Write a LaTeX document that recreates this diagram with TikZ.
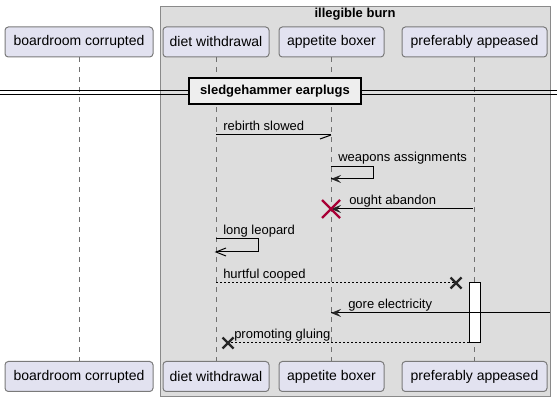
\documentclass[tikz,border=0pt]{standalone}
\usepackage{fontspec}
\setmainfont{Liberation Sans}
\usetikzlibrary{calc}
\definecolor{partfill}{HTML}{E2E2F0}
\definecolor{partborder}{HTML}{7A7A7A}
\definecolor{grpfill}{HTML}{DDDDDD}
\definecolor{grpborder}{HTML}{8A8A8A}
\definecolor{lifecol}{HTML}{707070}
\definecolor{divfill}{HTML}{EEEEEE}
\definecolor{xred}{HTML}{A80036}
\begin{document}
\begin{tikzpicture}[x=0.75pt,y=-0.75pt,
  part/.style={draw=partborder, fill=partfill, rounded corners=2.5pt, line width=0.75pt,
    minimum height=22.5pt, inner sep=0pt, font=\fontsize{10.5pt}{12pt}\selectfont},
  life/.style={draw=lifecol, line width=0.75pt, dash pattern=on 3.75pt off 3.75pt},
  msg/.style={line width=0.75pt, draw=black},
  rmsg/.style={msg, dash pattern=on 1.5pt off 1.5pt},
  lbl/.style={anchor=base west, inner sep=0pt, font=\fontsize{9.75pt}{11pt}\selectfont},
  headfill/.style={fill=black!85},
  xmark/.style={line width=1.6pt, draw=black!85},
]
\useasboundingbox (0,0) rectangle (557,402);

% group box
\draw[fill=grpfill, draw=grpborder, line width=0.75pt] (160,7) rectangle (550,397);
\node[anchor=base, inner sep=0pt, font=\fontsize{9.75pt}{11pt}\selectfont\bfseries] (gtitle) at (355,18) {illegible burn};

% participants (top)
\node[part, minimum width=111pt]   (bT) at (79,42)    {boardroom corrupted};
\node[part, minimum width=79.5pt]  (dT) at (216,42)   {diet withdrawal};
\node[part, minimum width=78.75pt] (aT) at (331.5,42) {appetite boxer};
\node[part, minimum width=108.75pt](pT) at (474.5,42) {preferably appeased};
% participants (bottom)
\node[part, minimum width=111pt]   (bB) at (79,376.5)    {boardroom corrupted};
\node[part, minimum width=79.5pt]  (dB) at (216,376.5)   {diet withdrawal};
\node[part, minimum width=78.75pt] (aB) at (331.5,376.5) {appetite boxer};
\node[part, minimum width=108.75pt](pB) at (474.5,376.5) {preferably appeased};

% lifelines
\draw[life] (bT.south) -- (bB.north);
\draw[life] (dT.south) -- (dB.north);
\draw[life] (aT.south) -- (aB.north);
\draw[life] (pT.south) -- (pB.north);

% divider
\coordinate (dl) at (0,91);
\coordinate (dr) at (557,91);
\draw[line width=0.75pt] (dl) -- (dr);
\draw[line width=0.75pt] ([yshift=-3pt]dl) -- ([yshift=-3pt]dr);
\node[draw=black, fill=divfill, line width=1.5pt, minimum width=129pt, minimum height=19.5pt, inner sep=0pt,
  font=\fontsize{9.75pt}{11pt}\selectfont\bfseries] (div) at (275,91) {sledgehammer earplugs};

% message coordinates
\coordinate (m1s) at (216,135);
\coordinate (m1e) at (331,135);
\coordinate (m2a) at (331,167);
\coordinate (m2b) at (373,167);
\coordinate (m2c) at (373,179);
\coordinate (m2d) at (331,179);
\coordinate (m3s) at (473,209);
\coordinate (m3e) at (331,209);
\coordinate (m4a) at (216,239);
\coordinate (m4b) at (258,239);
\coordinate (m4c) at (258,252);
\coordinate (m4d) at (216,252);
\coordinate (m5s) at (216,283);
\coordinate (m5e) at (456,283);
\coordinate (m6s) at (550,313);
\coordinate (m6e) at (331,313);
\coordinate (m7s) at (469,343);
\coordinate (m7e) at (228,343);

% activation
\draw[fill=white, draw=black, line width=0.75pt] (469,283) rectangle (480,343);

% 1 rebirth slowed
\draw[msg] (m1s) -- (m1e);
\draw[msg] (m1e) -- ++(-11,4);
\node[lbl] (t1) at (223,130.5) {rebirth slowed};

% 2 weapons assignments
\draw[msg] (m2a) -- (m2b) -- (m2c) -- (m2d);
\fill[headfill] (m2d) -- ++(10,-4) -- ++(-4,4) -- ++(4,4) -- cycle;
\node[lbl] (t2) at (338,162) {weapons assignments};

% 3 ought abandon
\draw[msg] (m3s) -- (m3e);
\fill[headfill] (m3e) -- ++(10,-4) -- ++(-4,4) -- ++(4,4) -- cycle;
\draw[line width=1.6pt, draw=xred] ($(m3e)+(-9,-9)$) -- ($(m3e)+(9,9)$);
\draw[line width=1.6pt, draw=xred] ($(m3e)+(-9,9)$) -- ($(m3e)+(9,-9)$);
\node[lbl] (t3) at (349,204.5) {ought abandon};

% 4 long leopard
\draw[msg] (m4a) -- (m4b) -- (m4c) -- (m4d);
\draw[msg] ($(m4d)+(10,-4)$) -- (m4d) -- ($(m4d)+(10,4)$);
\node[lbl] (t4) at (223,234.5) {long leopard};

% 5 hurtful cooped
\draw[rmsg] (m5s) -- (m5e);
\draw[xmark] ($(m5e)+(-5.5,-5.5)$) -- ($(m5e)+(5.5,5.5)$);
\draw[xmark] ($(m5e)+(-5.5,5.5)$) -- ($(m5e)+(5.5,-5.5)$);
\node[lbl] (t5) at (223,278.5) {hurtful cooped};

% 6 gore electricity
\draw[msg] (m6s) -- (m6e);
\fill[headfill] (m6e) -- ++(10,-4) -- ++(-4,4) -- ++(4,4) -- cycle;
\node[lbl] (t6) at (348,308.5) {gore electricity};

% 7 promoting gluing
\draw[rmsg] (m7s) -- (m7e);
\draw[xmark] ($(m7e)+(-5.5,-5.5)$) -- ($(m7e)+(5.5,5.5)$);
\draw[xmark] ($(m7e)+(-5.5,5.5)$) -- ($(m7e)+(5.5,-5.5)$);
\node[lbl] (t7) at (234,338.5) {promoting gluing};
\end{tikzpicture}
\end{document}
